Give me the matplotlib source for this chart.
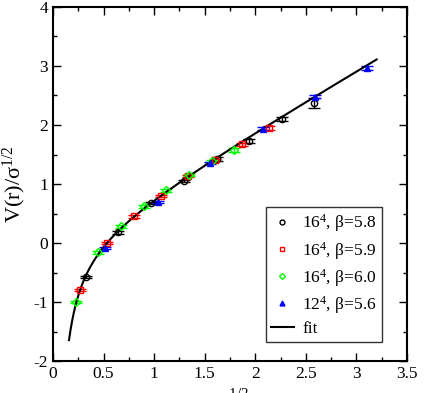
import numpy as np
import matplotlib
matplotlib.use('Agg')
import matplotlib.pyplot as plt
from matplotlib.ticker import MultipleLocator
from matplotlib.lines import Line2D

plt.rcParams['font.family'] = ['Liberation Serif', 'DejaVu Serif']
plt.rcParams['mathtext.fontset'] = 'custom'
plt.rcParams['mathtext.rm'] = 'Liberation Serif'
plt.rcParams['mathtext.it'] = 'Liberation Serif'

# 16^4, beta=5.8
x58 = [0.326, 0.646, 0.969, 1.293, 1.617, 1.940, 2.260, 2.585]
y58 = [-0.58, 0.18, 0.68, 1.05, 1.42, 1.73, 2.10, 2.37]
e58 = [0.02, 0.02, 0.02, 0.02, 0.03, 0.03, 0.04, 0.08]
# 16^4, beta=5.9
x59 = [0.267, 0.534, 0.801, 1.068, 1.335, 1.602, 1.869, 2.136]
y59 = [-0.80, 0.00, 0.45, 0.80, 1.14, 1.41, 1.67, 1.95]
e59 = [0.02, 0.02, 0.02, 0.02, 0.02, 0.02, 0.03, 0.03]
# 16^4, beta=6.0
x60 = [0.224, 0.448, 0.672, 0.896, 1.120, 1.344, 1.568, 1.792]
y60 = [-1.00, -0.16, 0.28, 0.62, 0.89, 1.15, 1.39, 1.58]
e60 = [0.02, 0.02, 0.02, 0.02, 0.02, 0.02, 0.02, 0.03]
# 12^4, beta=5.6
x56 = [0.518, 1.036, 1.554, 2.072, 2.590, 3.108]
y56 = [-0.08, 0.70, 1.36, 1.94, 2.48, 2.97]
e56 = [0.02, 0.02, 0.02, 0.02, 0.03, 0.03]

labels = [r'16$^4$, β=5.8', r'16$^4$, β=5.9', r'16$^4$, β=6.0', r'12$^4$, β=5.6', 'fit']

# fit V = c - a/x + b*x
fit_a, fit_b, fit_c = 0.285, 1.0, 0.0
fit_range = (0.158, 3.2)

fig = plt.figure(figsize=(4.36, 3.93), dpi=100)
ax = fig.add_axes([0.1216, 0.0814, 0.8119, 0.9008])

ms = 4.5
cap = 4
ax.errorbar(x58, y58, yerr=e58, fmt='o', mfc='none', mec='black', ecolor='black',
            ms=ms, mew=1.0, capsize=cap, elinewidth=1)
ax.errorbar(x59, y59, yerr=e59, fmt='s', mfc='none', mec='red', ecolor='red',
            ms=ms - 0.5, mew=1.0, capsize=cap, elinewidth=1)
ax.errorbar(x60, y60, yerr=e60, fmt='D', mfc='none', mec='#00ff00', ecolor='#00ff00',
            ms=ms - 0.5, mew=1.0, capsize=cap, elinewidth=1)
ax.errorbar(x56, y56, yerr=e56, fmt='^', mfc='blue', mec='blue', ecolor='blue',
            ms=ms, mew=1.0, capsize=cap, elinewidth=1)

xf = np.linspace(fit_range[0], fit_range[1], 400)
ax.plot(xf, fit_c - fit_a / xf + fit_b * xf, color='black', lw=1.5)

ax.set_xlim(0, 3.5)
ax.set_ylim(-2, 4)
ax.xaxis.set_major_locator(MultipleLocator(0.5))
ax.xaxis.set_minor_locator(MultipleLocator(0.25))
ax.yaxis.set_major_locator(MultipleLocator(1))
ax.yaxis.set_minor_locator(MultipleLocator(0.5))
ax.tick_params(which='both', direction='in', top=True, right=True, labelsize=12.5, width=1)
ax.tick_params(which='major', length=6)
ax.tick_params(which='minor', length=3)
ax.xaxis.set_major_formatter(plt.FuncFormatter(lambda v, p: ('%g' % v)))
ax.yaxis.set_major_formatter(plt.FuncFormatter(lambda v, p: ('%g' % v)))
for s in ax.spines.values():
    s.set_linewidth(1.5)

ax.set_ylabel(r'V(r)/σ$^{1/2}$', fontsize=16, labelpad=4)
ax.set_xlabel(r'rσ$^{1/2}$', fontsize=15.5, labelpad=5.5)

handles = [
    Line2D([], [], ls='none', marker='o', mfc='none', mec='black', ms=3.5, mew=1),
    Line2D([], [], ls='none', marker='s', mfc='none', mec='red', ms=3, mew=1),
    Line2D([], [], ls='none', marker='D', mfc='none', mec='#00ff00', ms=3, mew=1),
    Line2D([], [], ls='none', marker='^', mfc='blue', mec='blue', ms=3.5, mew=1),
    Line2D([], [], color='black', lw=1.5),
]
leg = ax.legend(handles, labels, loc='upper left', bbox_to_anchor=(0.601, 0.434),
                borderaxespad=0, fontsize=12.5, frameon=True, fancybox=False,
                edgecolor='black', handlelength=1.3, labelspacing=0.3,
                borderpad=0.3, handletextpad=0.5)
leg.get_frame().set_linewidth(1.0)

fig.savefig('out.png', dpi=100)
